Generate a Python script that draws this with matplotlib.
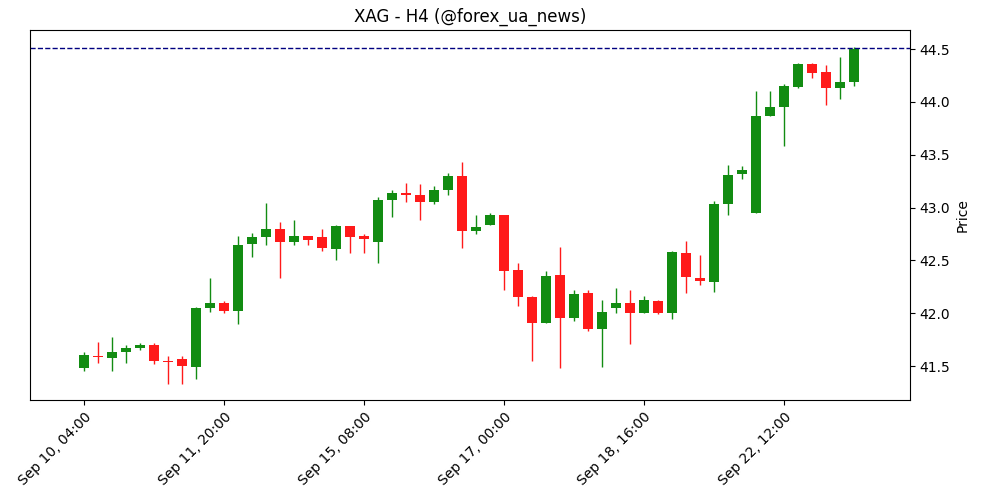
import matplotlib
matplotlib.use("Agg")
import matplotlib.pyplot as plt

opens = [41.48,41.60,41.58,41.63,41.67,41.70,41.55,41.57,41.49,42.05,42.10,42.02,42.66,42.72,42.80,42.67,42.73,42.72,42.61,42.83,
         42.73,42.67,43.07,43.14,43.12,43.05,43.17,43.30,42.78,42.84,42.93,42.41,42.15,41.91,42.36,41.96,42.19,41.85,42.05,42.10,
         42.00,42.12,42.00,42.57,42.33,42.30,43.03,43.32,42.95,43.87,43.95,44.14,44.36,44.28,44.13,44.19]
closes = [41.61,41.59,41.63,41.67,41.70,41.55,41.54,41.50,42.05,42.10,42.02,42.65,42.72,42.80,42.67,42.73,42.69,42.62,42.83,42.72,
          42.70,43.07,43.14,43.12,43.05,43.17,43.30,42.78,42.82,42.93,42.40,42.15,41.91,42.35,41.96,42.18,41.85,42.01,42.10,42.00,
          42.13,42.00,42.58,42.34,42.31,43.03,43.31,43.36,43.87,43.95,44.15,44.36,44.27,44.13,44.19,44.50]
highs = [41.63,41.73,41.78,41.70,41.72,41.72,41.60,41.60,42.06,42.33,42.12,42.73,42.76,43.04,42.86,42.88,42.73,42.80,42.84,42.83,
         42.75,43.10,43.17,43.23,43.22,43.20,43.33,43.43,42.93,42.95,42.93,42.48,42.16,42.40,42.63,42.22,42.22,42.13,42.24,42.22,
         42.16,42.13,42.59,42.68,42.55,43.06,43.40,43.39,44.10,44.10,44.17,44.37,44.37,44.35,44.42,44.52]
lows = [41.45,41.53,41.45,41.53,41.65,41.52,41.33,41.33,41.38,42.01,42.00,41.90,42.53,42.65,42.33,42.65,42.65,42.59,42.50,42.57,
        42.57,42.48,42.91,43.05,42.88,43.03,43.12,42.62,42.75,42.84,42.22,42.07,41.55,41.91,41.48,41.93,41.83,41.49,42.00,41.71,
        42.00,41.99,41.95,42.19,42.27,42.20,42.93,43.27,42.95,43.87,43.58,44.13,44.23,43.97,44.03,44.15]
tick_labels = ["Sep 10, 04:00","Sep 11, 20:00","Sep 15, 08:00","Sep 17, 00:00","Sep 18, 16:00","Sep 22, 12:00"]
last_price = 44.51

fig, ax = plt.subplots(figsize=(10, 5), dpi=100)
fig.subplots_adjust(left=0.03, right=0.91, top=0.94, bottom=0.2)
for i, (o, h, l, c) in enumerate(zip(opens, highs, lows, closes)):
    col = '#128c12' if c >= o else '#ff1a1a'
    ax.vlines(i, l, h, color=col, linewidth=1)
    ax.bar(i, abs(c - o) if abs(c - o) > 0.005 else 0.01, bottom=min(o, c), width=0.7, color=col)
ax.axhline(last_price, color='navy', linestyle='--', linewidth=1)
ax.set_xlim(-3.86, 59)
ax.set_ylim(41.18, 44.68)
ax.set_xticks(range(0, 60, 10))
ax.set_xticklabels(tick_labels, rotation=45, ha='right', rotation_mode='anchor')
ax.yaxis.tick_right()
ax.yaxis.set_label_position('right')
ax.set_ylabel('Price')
ax.set_title('XAG - H4 (@forex_ua_news)')
fig.savefig('out.png')
